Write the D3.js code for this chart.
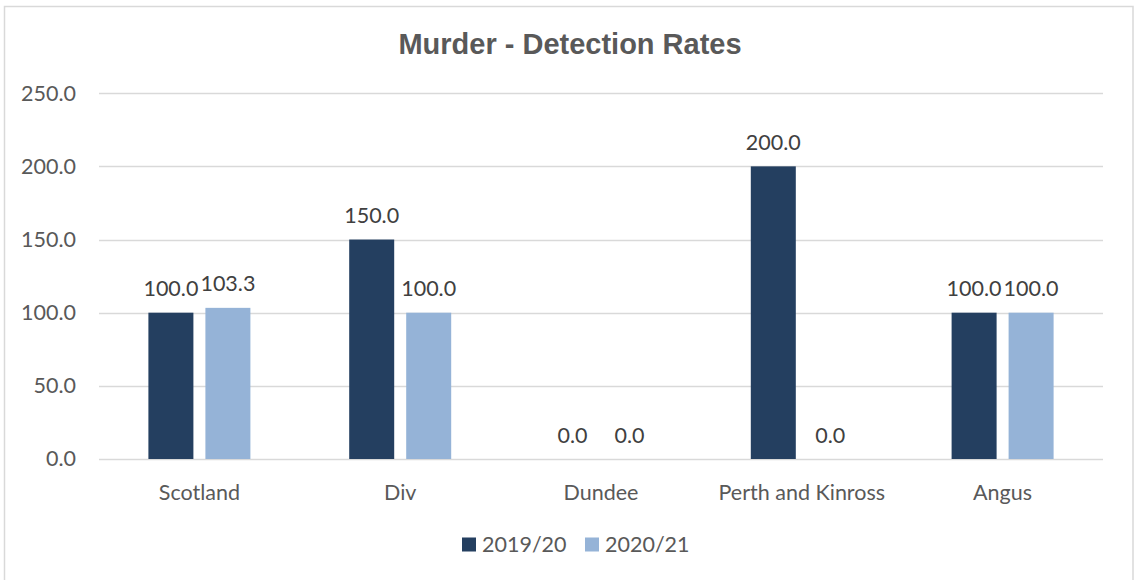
<!DOCTYPE html>
<html>
<head>
<meta charset="utf-8">
<script src="https://cdn.jsdelivr.net/npm/d3@7"></script>
<style>
  html, body { margin: 0; padding: 0; background: #fff; }
  svg { display: block; }
</style>
</head>
<body>
<svg id="chart" width="1136" height="580"></svg>
<script>
const categories = ["Scotland", "Div", "Dundee", "Perth and Kinross", "Angus"];
const seriesNames = ["2019/20", "2020/21"];
const values2019 = [100.0, 150.0, 0.0, 200.0, 100.0];
const values2020 = [103.3, 100.0, 0.0, 0.0, 100.0];
const yTicks = [0, 50, 100, 150, 200, 250];
const colors = ["#243F60", "#95B3D7"];
const title = "Murder - Detection Rates";

const FONT = "Lato, 'Open Sans', sans-serif";
const FS = 21.5;

const svg = d3.select("#chart");

// chart border
svg.append("rect")
  .attr("x", 4.5).attr("y", 6.5)
  .attr("width", 1128.5).attr("height", 580)
  .attr("fill", "none").attr("stroke", "#D9D9D9").attr("stroke-width", 1.5);

const plot = { left: 99, right: 1103, top: 93.2, bottom: 459 };

const x0 = d3.scaleBand().domain(categories).range([plot.left, plot.right]).paddingInner(0).paddingOuter(0);
const y = d3.scaleLinear().domain([0, 250]).range([plot.bottom, plot.top]);

// gridlines
svg.append("g").selectAll("line").data(yTicks).join("line")
  .attr("x1", plot.left).attr("x2", plot.right)
  .attr("y1", d => Math.round(y(d)) + 0.5).attr("y2", d => Math.round(y(d)) + 0.5)
  .attr("stroke", "#D9D9D9").attr("stroke-width", 1.5);

// y axis labels
const yAxis = d3.axisLeft(y).tickValues(yTicks).tickFormat(d3.format(".1f")).tickSize(0).tickPadding(0);
const yg = svg.append("g").attr("transform", `translate(76,0)`).call(yAxis);
yg.select(".domain").remove();
yg.selectAll("text").style("font-size", FS + "px").style("font-family", FONT).attr("fill", "#595959");

// bars
const barW = 45, gap = 12;
const series = [values2019, values2020];
series.forEach((vals, si) => {
  const g = svg.append("g");
  const xPos = (i) => x0(categories[i]) + x0.bandwidth() / 2 - (barW * 2 + gap) / 2 + si * (barW + gap);
  g.selectAll("rect").data(vals).join("rect")
    .attr("x", (d, i) => xPos(i))
    .attr("y", d => y(d))
    .attr("width", barW)
    .attr("height", d => y(0) - y(d))
    .attr("fill", colors[si]);
  g.selectAll("text").data(vals).join("text")
    .attr("x", (d, i) => xPos(i) + barW / 2)
    .attr("y", d => y(d) - 16.5)
    .attr("text-anchor", "middle")
    .style("font-size", FS + "px").style("font-family", FONT)
    .attr("fill", "#404040")
    .text(d => d3.format(".1f")(d));
});

// x axis labels
const xAxis = d3.axisBottom(x0).tickSize(0).tickPadding(0);
const xg = svg.append("g").attr("transform", `translate(0,${plot.bottom})`).call(xAxis);
xg.select(".domain").remove();
xg.selectAll("text").attr("dy", null).attr("y", 41)
  .style("font-size", FS + "px").style("font-family", FONT).attr("fill", "#595959");

// title
svg.append("text")
  .attr("x", 570).attr("y", 53.5)
  .attr("text-anchor", "middle")
  .style("font-family", "'Liberation Sans', Arial, sans-serif")
  .style("font-weight", "bold")
  .style("font-size", "29px")
  .attr("fill", "#595959")
  .text(title);

// legend
const legendX = [462, 585];
const lg = svg.append("g");
seriesNames.forEach((name, i) => {
  lg.append("rect").attr("x", legendX[i]).attr("y", 537.5).attr("width", 14).attr("height", 14).attr("fill", colors[i]);
  lg.append("text").attr("x", legendX[i] + 20).attr("y", 552)
    .style("font-size", FS + "px").style("font-family", FONT).attr("fill", "#595959").text(name);
});
</script>
</body>
</html>
